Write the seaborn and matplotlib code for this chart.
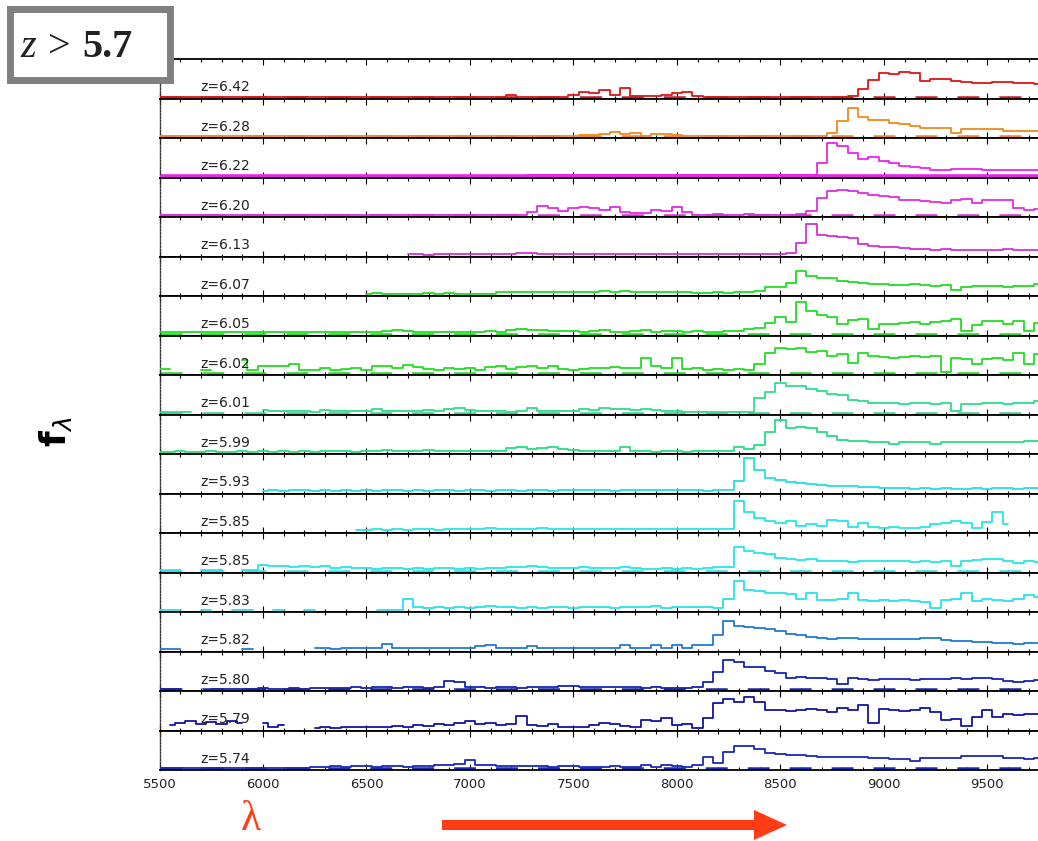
import numpy as np
import pandas as pd
import matplotlib
matplotlib.use("Agg")
import matplotlib.pyplot as plt
import seaborn as sns
from matplotlib.patches import Rectangle, FancyArrow
from matplotlib.ticker import MultipleLocator

nan = np.nan

# ---------------- data ----------------
wavelength = np.arange(5500, 9800, 50)  # 86 samples, 5500..9750 A

redshift_labels = ["z=6.42", "z=6.28", "z=6.22", "z=6.20", "z=6.13", "z=6.07",
                   "z=6.05", "z=6.02", "z=6.01", "z=5.99", "z=5.93", "z=5.85",
                   "z=5.85", "z=5.83", "z=5.82", "z=5.80", "z=5.79", "z=5.74"]

Z10 = [0] * 10

flux_z642 = (Z10 + Z10 + Z10 +
             [0, 0, 0, 0, 0.04, 0, 0, 0, 0, 0] +
             [0.06, 0.12, 0.1, 0.17, 0.06, 0.22, 0.03, 0.02, 0.02, 0.05] +
             [0.1, 0.13, 0.02, 0, 0, 0, 0, 0, 0, 0] +
             [0, 0, 0, 0, 0, 0, 0, 0.02, 0.2, 0.45] +
             [0.63, 0.6, 0.65, 0.62, 0.42, 0.47, 0.46, 0.41, 0.39, 0.37] +
             [0.37, 0.38, 0.38, 0.37, 0.36, 0.33])

flux_z628 = (Z10 + Z10 + Z10 +
             [0, 0, 0, 0, 0, 0, 0.02, 0.01, 0.02, 0.02] +
             [0.02, 0.03, 0.03, 0.05, 0.11, 0.05, 0.08, 0.02, 0.06, 0.05] +
             [0.04, 0.01, 0.02, 0.01, 0.01, 0.01, 0.02, 0.01, 0.02, 0.01] +
             [0.01, 0.02, 0.01, 0.01, 0.02, 0.1, 0.4, 0.75, 0.5, 0.42] +
             [0.44, 0.35, 0.33, 0.28, 0.23, 0.22, 0.21, 0.1, 0.18, 0.2] +
             [0.19, 0.2, 0.15, 0.14, 0.14, 0.15])

flux_z622 = (Z10 + Z10 + Z10 +
             [0, 0, 0, 0, 0, 0, 0.02, 0.03, 0.02, 0.01] +
             [0.02, 0.03, 0.02, 0.01, 0.02, 0.01, 0.01, 0.02, 0.01, 0.01] +
             [0.01] * 10 +
             [0.01, 0.01, 0.01, 0.02, 0.34, 0.86, 0.78, 0.59, 0.44, 0.51] +
             [0.38, 0.33, 0.26, 0.23, 0.2, 0.16, 0.16, 0.17, 0.18, 0.18] +
             [0.16, 0.15, 0.15, 0.15, 0.16, 0.15])

flux_z620 = (Z10 + Z10 + Z10 +
             [0, 0, 0, 0, 0, 0, 0.08, 0.25, 0.2, 0.12] +
             [0.18, 0.22, 0.2, 0.15, 0.23, 0.08, 0.05, 0.05, 0.14, 0.12] +
             [0.21, 0.08, 0.02, 0.02, 0.03, 0.02, 0.02, 0.03, 0.02, 0.02] +
             [0.02, 0.02, 0.03, 0.12, 0.45, 0.65, 0.67, 0.63, 0.6, 0.53] +
             [0.52, 0.48, 0.4, 0.4, 0.38, 0.36, 0.32, 0.4, 0.42, 0.32] +
             [0.4, 0.41, 0.4, 0.2, 0.15, 0.17])

flux_z613 = ([nan] * 10 + [nan] * 10 +
             [nan, nan, nan, nan, 0.01, 0.01, 0, 0.01, 0.01, 0.01] +
             [0.01, 0.01, 0.02, 0.01, 0.02, 0.05, 0.04, 0.01, 0.01, 0.02] +
             [0.01, 0.02, 0.01, 0.02, 0.01, 0.02, 0.01, 0.02, 0.01, 0.02] +
             [0.01] * 10 +
             [0.01, 0.05, 0.3, 0.82, 0.52, 0.5, 0.47, 0.44, 0.28, 0.24] +
             [0.21, 0.2, 0.17, 0.16, 0.15, 0.13, 0.15, 0.12, 0.14, 0.12] +
             [0.14, 0.12, 0.15, 0.13, 0.14, 0.13])

flux_z607 = ([nan] * 10 + [nan] * 10 +
             [0.02, 0.03, 0.01, 0.02, 0.02, 0.01, 0.03, 0.02, 0.03, 0.01] +
             [0.01, 0.02, 0.01, 0.05, 0.06, 0.05, 0.07, 0.06, 0.06, 0.05] +
             [0.07, 0.06, 0.05, 0.08, 0.06, 0.08, 0.06, 0.05, 0.07, 0.07] +
             [0.06, 0.05, 0.03, 0.04, 0.05, 0.04, 0.06, 0.05, 0.08, 0.18] +
             [0.18, 0.3, 0.62, 0.48, 0.44, 0.42, 0.35, 0.33, 0.29, 0.28] +
             [0.27, 0.25, 0.24, 0.26, 0.25, 0.22, 0.24, 0.12, 0.2, 0.22] +
             [0.22, 0.23, 0.2, 0.23, 0.22, 0.28])

flux_z605 = ([0.05, 0.04, 0.05, 0.04, 0.06, 0.05, 0.04, 0.05, 0.04, 0.06] +
             [0.05, 0.06, 0.05, 0.04, 0.05, 0.06, 0.05, 0.06, 0.05, 0.05] +
             [0.05, 0.06, 0.07, 0.1, 0.08, 0.06, 0.05, 0.06, 0.05, 0.06] +
             [0.06, 0.06, 0.07, 0.06, 0.1, 0.13, 0.1, 0.11, 0.07, 0.08] +
             [0.07, 0.06, 0.07, 0.1, 0.06, 0.05, 0.07, 0.09, 0.06, 0.07] +
             [0.07, 0.06, 0.07, 0.05, 0.06, 0.07, 0.08, 0.12, 0.15, 0.28] +
             [0.45, 0.3, 0.85, 0.6, 0.5, 0.45, 0.25, 0.36, 0.4, 0.12] +
             [0.27, 0.25, 0.28, 0.3, 0.26, 0.3, 0.35, 0.4, 0.07, 0.24] +
             [0.35, 0.33, 0.27, 0.35, 0.07, 0.28])

flux_z602 = ([0.12, 0.11, nan, nan, 0.1, 0.09, nan, nan, 0.36, 0.08] +
             [0.2, 0.18, 0.2, 0.25, 0.1, 0.08, 0.15, 0.1, 0.12, 0.13] +
             [0.1, 0.2, 0.18, 0.15, 0.22, 0.17, 0.12, 0.1, 0.15, 0.12] +
             [0.15, 0.1, 0.16, 0.18, 0.12, 0.16, 0.2, 0.13, 0.18, 0.12] +
             [0.1, 0.12, 0.15, 0.14, 0.16, 0.13, 0.15, 0.4, 0.18, 0.15] +
             [0.4, 0.12, 0.13, 0.1, 0.11, 0.1, 0.12, 0.1, 0.24, 0.55] +
             [0.66, 0.64, 0.66, 0.57, 0.58, 0.45, 0.5, 0.28, 0.53, 0.45] +
             [0.42, 0.4, 0.43, 0.45, 0.44, 0.46, 0.03, 0.4, 0.38, 0.24] +
             [0.38, 0.4, 0.35, 0.55, 0.25, 0.5])

flux_z601 = ([0.01, 0.01, 0.01, 0.01, nan, nan, nan, nan, nan, nan] +
             [0.08, 0.05, 0.06, 0.04, 0.05, 0.03, 0.08, 0.04, 0.05, 0.04] +
             [0.06, 0.1, 0.05, 0.04, 0.06, 0.05, 0.08, 0.05, 0.1, 0.12] +
             [0.08, 0.06, 0.05, 0.04, 0.03, 0.04, 0.12, 0.05, 0.04, 0.05] +
             [0.06, 0.1, 0.08, 0.12, 0.1, 0.11, 0.08, 0.09, 0.07, 0.06] +
             [0.04, 0.03, 0.03, 0.02, 0.03, 0.02, 0.03, 0.03, 0.38, 0.55] +
             [0.8, 0.72, 0.7, 0.62, 0.58, 0.5, 0.46, 0.35, 0.3, 0.27] +
             [0.25, 0.26, 0.24, 0.26, 0.25, 0.24, 0.25, 0.05, 0.22, 0.24] +
             [0.25, 0.26, 0.24, 0.27, 0.26, 0.3])

flux_z599 = ([0.02, 0.02, 0.03, 0.02, 0.02, 0.03, 0.02, 0.02, 0.03, 0.02] +
             [0.03, 0.02, 0.03, 0.02, 0.03, 0.02, 0.03, 0.04, 0.03, 0.02] +
             [0.03, 0.04, 0.05, 0.04, 0.03, 0.04, 0.05, 0.03, 0.04, 0.03] +
             [0.04, 0.03, 0.03, 0.04, 0.12, 0.14, 0.1, 0.12, 0.13, 0.08] +
             [0.05, 0.04, 0.03, 0.04, 0.03, 0.13, 0.03, 0.03, 0.02, 0.03] +
             [0.03, 0.02, 0.03, 0.03, 0.04, 0.03, 0.13, 0.1, 0.2, 0.55] +
             [0.85, 0.65, 0.67, 0.65, 0.55, 0.42, 0.32, 0.3, 0.3, 0.28] +
             [0.28, 0.22, 0.27, 0.28, 0.27, 0.22, 0.27, 0.28, 0.27, 0.28] +
             [0.27, 0.28, 0.27, 0.28, 0.29, 0.3])

flux_z593 = ([nan] * 10 +
             [0.03, 0.04, 0.03, 0.05, 0.04, 0.03, 0.04, 0.03, 0.05, 0.03] +
             [0.04, 0.03, 0.05, 0.04, 0.03, 0.04, 0.03, 0.05, 0.04, 0.03] +
             [0.04, 0.05, 0.03, 0.04, 0.04, 0.03, 0.04, 0.04, 0.03, 0.04] +
             [0.04, 0.05, 0.04, 0.04, 0.03, 0.04, 0.04, 0.04, 0.05, 0.04] +
             [0.04, 0.04, 0.04, 0.03, 0.04, 0.04, 0.28, 0.9, 0.58, 0.36] +
             [0.32, 0.25, 0.22, 0.2, 0.18, 0.16, 0.16, 0.15, 0.14, 0.12] +
             [0.1, 0.09, 0.1, 0.08, 0.09, 0.08, 0.09, 0.07, 0.08, 0.09] +
             [0.08, 0.09, 0.1, 0.08, 0.09, 0.1])

flux_z585a = ([nan] * 10 +
              [nan] * 9 + [0.03] +
              [0.04, 0.05, 0.03, 0.06, 0.04, 0.05, 0.06, 0.04, 0.07, 0.05] +
              [0.06, 0.05, 0.08, 0.06, 0.07, 0.05, 0.06, 0.08, 0.05, 0.06] +
              [0.06, 0.07, 0.05, 0.06, 0.07, 0.06, 0.05, 0.06, 0.07, 0.06] +
              [0.05, 0.06, 0.05, 0.06, 0.05, 0.06, 0.8, 0.5, 0.35, 0.28] +
              [0.22, 0.28, 0.15, 0.18, 0.14, 0.3, 0.28, 0.12, 0.22, 0.12] +
              [0.1, 0.12, 0.08, 0.1, 0.12, 0.2, 0.22, 0.28, 0.22, 0.1] +
              [0.25, 0.5, 0.18, nan, nan, nan])

flux_z585b = ([0.02, 0.02, 0.02, nan, 0.02, 0.02, 0.02, nan, 0.02, 0.03] +
              [0.15, 0.12, 0.13, 0.1, 0.12, 0.1, 0.14, 0.08, 0.09, 0.08] +
              [0.07, 0.06, 0.08, 0.07, 0.06, 0.07, 0.06, 0.08, 0.07, 0.06] +
              [0.07, 0.06, 0.08, 0.07, 0.1, 0.09, 0.12, 0.1, 0.08, 0.07] +
              [0.08, 0.1, 0.08, 0.07, 0.08, 0.1, 0.07, 0.06, 0.05, 0.07] +
              [0.06, 0.07, 0.06, 0.08, 0.1, 0.1, 0.62, 0.52, 0.47, 0.45] +
              [0.35, 0.3, 0.28, 0.3, 0.26, 0.27, 0.25, 0.24, 0.27, 0.25] +
              [0.26, 0.25, 0.27, 0.24, 0.26, 0.22, 0.25, 0.12, 0.26, 0.28] +
              [0.3, 0.3, 0.26, 0.2, 0.26, 0.24])

flux_z583 = ([0.01, 0.01, 0.01, nan, 0.01, 0.01, nan, 0.01, 0.01, 0.01] +
             [nan, 0.01, 0.01, nan, 0.01, 0.01, nan, 0.01, nan, 0.01] +
             [nan, 0.01, 0.01, 0.01, 0.31, 0.08, 0.06, 0.1, 0.05, 0.08] +
             [0.07, 0.1, 0.12, 0.08, 0.1, 0.07, 0.09, 0.06, 0.08, 0.1] +
             [0.07, 0.08, 0.1, 0.08, 0.07, 0.09, 0.1, 0.08, 0.12, 0.07] +
             [0.08, 0.1, 0.09, 0.08, 0.06, 0.3, 0.78, 0.55, 0.52, 0.46] +
             [0.45, 0.42, 0.3, 0.45, 0.27, 0.26, 0.3, 0.45, 0.28, 0.25] +
             [0.26, 0.25, 0.28, 0.24, 0.22, 0.06, 0.28, 0.3, 0.45, 0.25] +
             [0.3, 0.28, 0.25, 0.3, 0.4, 0.35])

flux_z582 = ([0.02, 0.02, 0.02, nan, nan, nan, nan, nan, 0.03, 0.03] +
             [nan, nan, nan, nan, nan, 0.04, 0.04, 0.03, 0.04, 0.04] +
             [0.04, 0.05, 0.15, 0.04, 0.05, 0.04, 0.05, 0.06, 0.04, 0.06] +
             [0.05, 0.1, 0.12, 0.06, 0.04, 0.05, 0.1, 0.05, 0.06, 0.05] +
             [0.05, 0.04, 0.05, 0.06, 0.04, 0.13, 0.04, 0.05, 0.12, 0.05] +
             [0.13, 0.05, 0.12, 0.12, 0.4, 0.75, 0.62, 0.6, 0.58, 0.55] +
             [0.5, 0.42, 0.38, 0.35, 0.3, 0.28, 0.3, 0.32, 0.29, 0.28] +
             [0.29, 0.28, 0.29, 0.28, 0.3, 0.32, 0.25, 0.22, 0.22, 0.2] +
             [0.2, 0.18, 0.17, 0.15, 0.17, 0.17])

flux_z580 = ([0.02, 0.02, 0.02, nan, nan, 0.02, 0.02, 0.02, 0.02, 0.02] +
             [0.03, 0.02, 0.02, 0.03, 0.02, 0.03, 0.04, 0.03, 0.04, 0.05] +
             [0.04, 0.06, 0.05, 0.04, 0.06, 0.05, 0.04, 0.05, 0.22, 0.2] +
             [0.06, 0.05, 0.04, 0.05, 0.06, 0.04, 0.05, 0.06, 0.05, 0.08] +
             [0.1, 0.06, 0.05, 0.06, 0.05, 0.06, 0.05, 0.04, 0.05, 0.04] +
             [0.04, 0.04, 0.05, 0.18, 0.45, 0.78, 0.72, 0.6, 0.6, 0.48] +
             [0.42, 0.3, 0.32, 0.31, 0.3, 0.28, 0.15, 0.3, 0.28, 0.25] +
             [0.26, 0.27, 0.26, 0.25, 0.27, 0.26, 0.28, 0.3, 0.27, 0.29] +
             [0.3, 0.27, 0.22, 0.2, 0.22, 0.25])

flux_z579 = ([nan, 0.1, 0.15, 0.2, 0.12, 0.18, 0.12, 0.2, 0.15, nan] +
             [0.15, 0.05, 0.1, nan, nan, 0.03, 0.04, 0.03, 0.05, 0.04] +
             [0.05, 0.06, 0.04, 0.08, 0.06, 0.1, 0.07, 0.12, 0.1, 0.15] +
             [0.2, 0.12, 0.15, 0.1, 0.12, 0.35, 0.1, 0.08, 0.12, 0.06] +
             [0.05, 0.06, 0.1, 0.15, 0.12, 0.08, 0.06, 0.24, 0.2, 0.29] +
             [0.11, 0.12, 0.03, 0.29, 0.68, 0.8, 0.72, 0.85, 0.7, 0.5] +
             [0.5, 0.48, 0.5, 0.52, 0.5, 0.45, 0.55, 0.5, 0.63, 0.15] +
             [0.52, 0.5, 0.48, 0.5, 0.55, 0.45, 0.24, 0.26, 0.07, 0.3] +
             [0.5, 0.3, 0.38, 0.37, 0.38, 0.4])

flux_z574 = ([0.02] * 10 +
             [0.02, 0.02, 0.02, 0.02, 0.02, 0.03, 0.04, 0.05, 0.04, 0.05] +
             [0.05, 0.04, 0.05, 0.06, 0.04, 0.05, 0.06, 0.08, 0.1, 0.12] +
             [0.22, 0.1, 0.08, 0.06, 0.07, 0.05, 0.06, 0.05, 0.04, 0.05] +
             [0.05, 0.04, 0.03, 0.04, 0.05, 0.03, 0.04, 0.1, 0.04, 0.08] +
             [0.05, 0.04, 0.1, 0.3, 0.15, 0.43, 0.6, 0.6, 0.52, 0.4] +
             [0.38, 0.36, 0.34, 0.32, 0.3, 0.31, 0.3, 0.3, 0.29, 0.28] +
             [0.26, 0.25, 0.24, 0.18, 0.28, 0.27, 0.26, 0.28, 0.32, 0.33] +
             [0.33, 0.32, 0.27, 0.26, 0.25, 0.26])

spectra = [flux_z642, flux_z628, flux_z622, flux_z620, flux_z613, flux_z607,
           flux_z605, flux_z602, flux_z601, flux_z599, flux_z593, flux_z585a,
           flux_z585b, flux_z583, flux_z582, flux_z580, flux_z579, flux_z574]

xtick_values = [5500, 6000, 6500, 7000, 7500, 8000, 8500, 9000, 9500]

# ---------------- styles ----------------
colors = ["#e01414", "#f08a1e", "#ee22ee", "#e02ee0", "#d034d0", "#22dd22",
          "#22dd22", "#22dd22", "#2edc8a", "#28dc80", "#26dede", "#26e6e6",
          "#26e6e6", "#26e2e8", "#1f78d8", "#1424b4", "#1212a8", "#1a2ab8"]
zero_style = ["dash", "dash", "solid", "dash", None, None,
              "dash", "dash", "dash", None, None, None,
              "dash", None, None, "dash", None, "dash"]

sns.set_style("white")
plt.rcParams["font.family"] = ["DejaVu Sans"]

W, H = 1038, 841
fig = plt.figure(figsize=(W / 100, H / 100), dpi=100)
axes = fig.subplots(18, 1, sharex=True,
                    gridspec_kw=dict(hspace=0, left=159.5 / W, right=1.0,
                                     top=1 - 59 / H, bottom=1 - 770 / H))

for i, ax in enumerate(axes):
    flux = np.array(spectra[i], dtype=float)
    assert len(flux) == len(wavelength), (i, len(flux))
    df = pd.DataFrame({"wl": wavelength, "flux": flux})
    df["seg"] = df["flux"].isna().cumsum()
    df = df.dropna()
    c = colors[i]
    if zero_style[i] == "dash":
        ax.axhline(0, color=c, lw=1.8, ls=(0, (15.8 / 1.8, 14.4 / 1.8)), zorder=2)
    elif zero_style[i] == "solid":
        ax.axhline(0, color=c, lw=2.6, zorder=2)
    sns.lineplot(data=df, x="wl", y="flux", units="seg", estimator=None,
                 color=c, lw=1.3, drawstyle="steps-mid", ax=ax, legend=False,
                 zorder=3)
    ax.set_xlim(5500, 9745)
    ax.set_ylim(-0.045, 1.0)
    ax.set_xlabel("")
    ax.set_ylabel("")
    ax.set_yticks([])
    ax.xaxis.set_major_locator(MultipleLocator(500))
    ax.xaxis.set_minor_locator(MultipleLocator(100))
    ax.tick_params(axis="x", which="both", direction="in", top=True, bottom=True,
                   color="black", width=0.8)
    ax.tick_params(axis="x", which="major", length=4)
    ax.tick_params(axis="x", which="minor", length=2.5)
    for side in ("top", "bottom"):
        ax.spines[side].set_visible(True)
        ax.spines[side].set_color("black")
        ax.spines[side].set_linewidth(1.3)
    ax.spines["left"].set_visible(True)
    ax.spines["left"].set_color("#333333")
    ax.spines["left"].set_linewidth(1.0)
    ax.spines["left"].set_linestyle((0, (1.2, 1.2)))
    ax.spines["right"].set_visible(False)
    ax.text(0.046, 0.28, redshift_labels[i], transform=ax.transAxes,
            fontsize=10, ha="left", va="center", color="#222222", zorder=5)

axes[-1].set_xticks(xtick_values)
axes[-1].set_xticklabels([str(v) for v in xtick_values])
axes[-1].tick_params(axis="x", which="major", labelsize=9.5, pad=6,
                     labelcolor="#222222")

# ---------------- overlay annotations (pixel coordinates) ----------------
ov = fig.add_axes([0, 0, 1, 1], zorder=10)
ov.set_xlim(0, W)
ov.set_ylim(H, 0)
ov.axis("off")
ov.patch.set_alpha(0)

ov.add_patch(Rectangle((9.5, 8.5), 160, 71, lw=5, ec="#808080", fc="white"))
ov.text(20, 57, "z", fontfamily="Liberation Serif", style="italic",
        fontsize=29, va="baseline", ha="left", color="#222222")
ov.text(48, 57, ">", fontfamily="Liberation Serif", fontsize=29,
        va="baseline", ha="left", color="#222222")
ov.text(82, 57, "5.7", fontfamily="Liberation Serif", fontweight="bold",
        fontsize=29, va="baseline", ha="left", color="#222222")

ov.text(55, 432, r"$\mathbf{f}_{\lambda}$", rotation=90, fontsize=26,
        ha="center", va="center", color="black")

ov.text(251, 820, "λ", fontfamily="Liberation Serif", fontsize=30,
        color="#ff3c14", ha="center", va="center")
ov.add_patch(FancyArrow(442, 825, 345, 0, width=10, head_width=30,
                        head_length=33, length_includes_head=True,
                        color="#ff3c14", lw=0))

fig.savefig("out.png", dpi=100)
